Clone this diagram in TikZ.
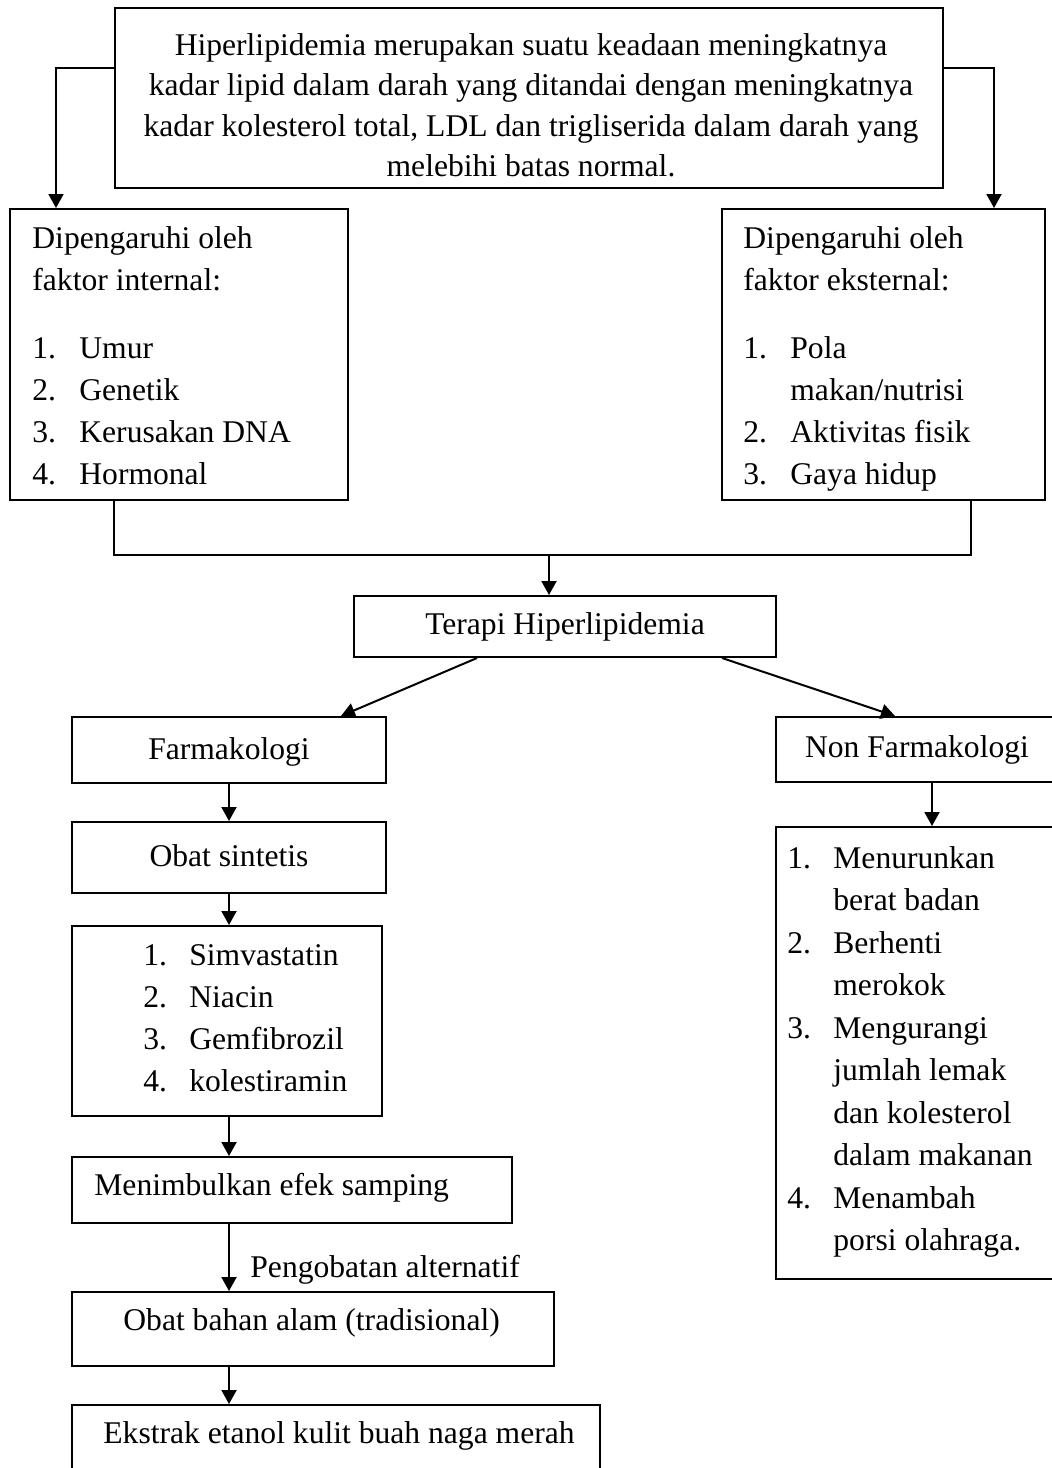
\documentclass[tikz,border=0pt]{standalone}
\usepackage{fontspec}
\setmainfont{Liberation Serif}
\usetikzlibrary{arrows.meta,fit,calc}
\newcommand\listno[1]{\makebox[23.5pt][l]{#1}}
\newcommand\listnob[1]{\makebox[23pt][l]{#1}}
\begin{document}
\begin{tikzpicture}[x=0.5pt,y=-0.5pt,
  box/.style={draw, line width=1pt, inner sep=0pt},
  txt/.style={inner sep=0pt, font=\fontsize{15.8pt}{21.15pt}\selectfont},
  txthead/.style={inner sep=0pt, font=\fontsize{15.8pt}{21pt}\selectfont},
  txttop/.style={inner sep=0pt, font=\fontsize{15.8pt}{20.25pt}\selectfont},
  txtnl/.style={inner sep=0pt, font=\fontsize{15.8pt}{21.25pt}\selectfont},
  arr/.style={line width=1pt, -{Triangle[length=7pt,width=7.5pt]}},
  conn/.style={line width=1pt}]
\useasboundingbox (0,0) rectangle (1052,1468);
\fill[white] (0,0) rectangle (1052,1468);

% top box
\node[box, fit={(115,8) (943,188)}] (top) {};
\node[txttop, anchor=base] (toptext) at (531,55) {\begin{tabular}[t]{@{}c@{}}Hiperlipidemia merupakan suatu keadaan meningkatnya\\ kadar lipid dalam darah yang ditandai dengan meningkatnya\\ kadar kolesterol total, LDL dan trigliserida dalam darah yang\\ melebihi batas normal.\end{tabular}};

% internal factors
\node[box, fit={(10,209) (348,500)}] (L) {};
\node[txthead, anchor=base west] (Lh) at (32,248) {\begin{tabular}[t]{@{}l@{}}Dipengaruhi oleh\\ faktor internal:\end{tabular}};
\node[txt, anchor=base west] (Li) at (32,358) {\begin{tabular}[t]{@{}l@{}}\listno{1.}Umur\\ \listno{2.}Genetik\\ \listno{3.}Kerusakan DNA\\ \listno{4.}Hormonal\end{tabular}};

% external factors
\node[box, fit={(722,209) (1045,500)}] (R) {};
\node[txthead, anchor=base west] (Rh) at (743,248) {\begin{tabular}[t]{@{}l@{}}Dipengaruhi oleh\\ faktor eksternal:\end{tabular}};
\node[txt, anchor=base west] (Ri) at (743,358) {\begin{tabular}[t]{@{}l@{}}\listno{1.}Pola\\ \listno{}makan/nutrisi\\ \listno{2.}Aktivitas fisik\\ \listno{3.}Gaya hidup\end{tabular}};

\draw[arr] ([yshift=-30.5pt]top.north west) -| ([xshift=23.5pt]L.north west);
\draw[arr] ([yshift=-30.5pt]top.north east) -| ([xshift=-26pt]R.north east);

% terapi
\node[box, fit={(354,596) (776,657)}] (T) {};
\node[txt, anchor=base] (Tt) at (565,634) {Terapi Hiperlipidemia};
\draw[conn] ([xshift=52.5pt]L.south west) -- ++(0,54) -| ([xshift=125pt]R.south west);
\coordinate (join) at (549,554);
\draw[arr] (join) -- (join |- T.north);

% farmakologi / non
\node[box, fit={(72,717) (386,783)}] (F) {};
\node[txt, anchor=base] (Ft) at (229,759) {Farmakologi};
\node[box, fit={(776,717) (1056,782)}] (NF) {};
\node[txt, anchor=base] (NFt) at (917,757) {Non Farmakologi};
\draw[arr] ([xshift=62pt]T.south west) -- ([xshift=135pt]F.north west);
\draw[arr] ([xshift=-27.5pt]T.south east) -- ([xshift=60pt]NF.north west);

% non farmakologi list
\node[box, fit={(776,827) (1056,1279)}] (NL) {};
\node[txtnl, anchor=base west] (NLt) at (787,868) {\begin{tabular}[t]{@{}l@{}}\listnob{1.}Menurunkan\\ \listnob{}berat badan\\ \listnob{2.}Berhenti\\ \listnob{}merokok\\ \listnob{3.}Mengurangi\\ \listnob{}jumlah lemak\\ \listnob{}dan kolesterol\\ \listnob{}dalam makanan\\ \listnob{4.}Menambah\\ \listnob{}porsi olahraga.\end{tabular}};
\draw[arr] ([xshift=78.5pt]NF.south west) -- ([xshift=78.5pt]NL.north west);

% left column
\node[box, fit={(72,822) (386,893)}] (O) {};
\node[txt, anchor=base] (Ot) at (229,866) {Obat sintetis};
\node[box, fit={(72,926) (382,1116)}] (D) {};
\node[txt, anchor=base west] (Dt) at (143,965) {\begin{tabular}[t]{@{}l@{}}\listnob{1.}Simvastatin\\ \listnob{2.}Niacin\\ \listnob{3.}Gemfibrozil\\ \listnob{4.}kolestiramin\end{tabular}};
\node[box, fit={(72,1157) (512,1223)}] (M) {};
\node[txt, anchor=base west] (Mt) at (94,1195) {Menimbulkan efek samping};
\node[box, fit={(72,1292) (554,1366)}] (B) {};
\node[txt, anchor=base west] (Bt) at (123,1330) {Obat bahan alam (tradisional)};
\node[box, fit={(72,1405) (600,1485)}] (E) {};
\node[txt, anchor=base west] (Et) at (103,1443) {Ekstrak etanol kulit buah naga merah};

\draw[arr] ([xshift=79pt]F.south west) -- ([xshift=79pt]O.north west);
\draw[arr] ([xshift=79pt]O.south west) -- ([xshift=79pt]D.north west);
\draw[arr] ([xshift=79pt]D.south west) -- ([xshift=79pt]M.north west);
\draw[arr] ([xshift=79pt]M.south west) -- ([xshift=79pt]B.north west);
\node[txt, anchor=base west] (alt) at (250,1277) {Pengobatan alternatif};
\draw[arr] ([xshift=79pt]B.south west) -- ([xshift=79pt]E.north west);
\end{tikzpicture}
\end{document}
